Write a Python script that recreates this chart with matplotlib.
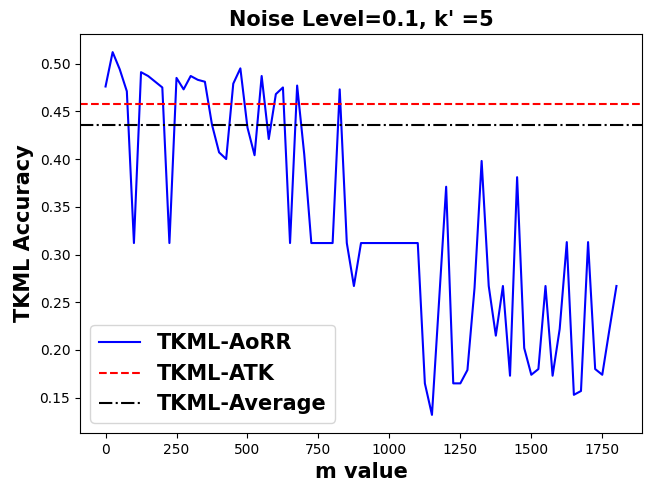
import matplotlib
matplotlib.use("Agg")
import matplotlib.pyplot as plt
import numpy as np

m_values = list(range(0, 1825, 25))
aorr = [0.476, 0.512, 0.494, 0.471, 0.312, 0.491, 0.487, 0.481, 0.475, 0.312,
        0.485, 0.473, 0.487, 0.483, 0.481, 0.436, 0.407, 0.400, 0.479, 0.495,
        0.433, 0.404, 0.487, 0.421, 0.468, 0.475, 0.312, 0.477, 0.405, 0.312,
        0.312, 0.312, 0.312, 0.473, 0.312, 0.267, 0.312, 0.312, 0.312, 0.312,
        0.312, 0.312, 0.312, 0.312, 0.312, 0.165, 0.132, 0.251, 0.371, 0.165,
        0.165, 0.179, 0.265, 0.398, 0.267, 0.215, 0.267, 0.173, 0.381, 0.202,
        0.174, 0.180, 0.267, 0.173, 0.222, 0.313, 0.153, 0.157, 0.313, 0.180,
        0.174, 0.221, 0.267]
atk_value = 0.458
average_value = 0.436

fig = plt.figure(figsize=(6.51, 4.91), dpi=100)
ax = fig.add_axes([80/651, 1-433/491, (642-80)/651, (433-34)/491])
ax.plot(m_values, aorr, color='b', linewidth=1.5, label='TKML-AoRR')
ax.axhline(atk_value, color='r', linestyle='--', linewidth=1.5, label='TKML-ATK')
ax.axhline(average_value, color='k', linestyle='-.', linewidth=1.5, label='TKML-Average')
ax.set_xlabel('m value', fontsize=15, fontweight='bold')
ax.set_ylabel('TKML Accuracy', fontsize=15, fontweight='bold')
ax.set_title("Noise Level=0.1, k' =5", fontsize=15, fontweight='bold')
ax.legend(loc='lower left', prop={'size': 15, 'weight': 'bold'})
fig.savefig('out.png', dpi=100)
